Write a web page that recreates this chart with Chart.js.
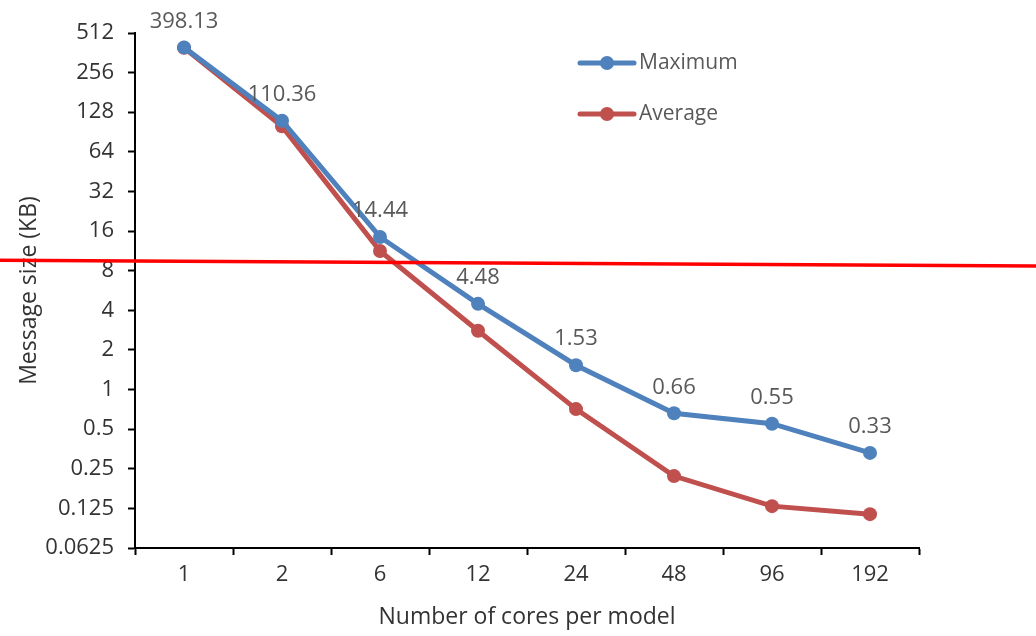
<!DOCTYPE html>
<html>
<head>
<meta charset="utf-8">
<script src="https://cdn.jsdelivr.net/npm/chart.js@4"></script>
<style>
  html, body { margin: 0; padding: 0; background: #fff; }
  #wrap { width: 1036px; height: 636px; }
</style>
</head>
<body>
<div id="wrap"><canvas id="msgChart" width="1036" height="636"></canvas></div>
<script>
// cores per model
var cores = ['1', '2', '6', '12', '24', '48', '96', '192'];
// message size in KB
var maxSize = [398.13, 110.36, 14.44, 4.48, 1.53, 0.66, 0.55, 0.33];
var avgSize = [395, 100, 11.3, 2.8, 0.71, 0.22, 0.13, 0.113];
// log2 ticks on the y axis
var yTicks = [0.0625, 0.125, 0.25, 0.5, 1, 2, 4, 8, 16, 32, 64, 128, 256, 512];
var yTickLabels = ['0.0625', '0.125', '0.25', '0.5', '1', '2', '4', '8', '16', '32', '64', '128', '256', '512'];
// threshold line, value at left and right edge of the canvas
var cutoffLine = [9.6, 8.7];

var FONT = '"Open Sans", sans-serif';
var BLUE = '#4f81bd';
var RED = '#c0504d';

// value labels above the Maximum series
var valueLabels = {
    id: 'valueLabels',
    afterDatasetsDraw: function (chart) {
        var ctx = chart.ctx;
        var meta = chart.getDatasetMeta(0);
        ctx.save();
        ctx.font = '22px ' + FONT;
        ctx.fillStyle = '#595959';
        ctx.textAlign = 'center';
        ctx.textBaseline = 'bottom';
        meta.data.forEach(function (pt, i) {
            ctx.fillText(maxSize[i].toFixed(2), pt.x, pt.y - 15);
        });
        ctx.restore();
    }
};

// legend in the upper right of the plot
var lineLegend = {
    id: 'lineLegend',
    afterDraw: function (chart) {
        var ctx = chart.ctx;
        var x0 = chart.chartArea.left + 445;
        var y0 = chart.chartArea.top + 30;
        chart.data.datasets.forEach(function (ds, i) {
            var y = y0 + i * 51;
            ctx.save();
            ctx.strokeStyle = ds.borderColor;
            ctx.lineWidth = 5;
            ctx.lineCap = 'round';
            ctx.beginPath();
            ctx.moveTo(x0, y);
            ctx.lineTo(x0 + 54, y);
            ctx.stroke();
            ctx.fillStyle = ds.borderColor;
            ctx.beginPath();
            ctx.arc(x0 + 27, y, 7, 0, Math.PI * 2);
            ctx.fill();
            ctx.font = '21px ' + FONT;
            ctx.fillStyle = '#595959';
            ctx.textBaseline = 'middle';
            ctx.fillText(ds.label, x0 + 59, y);
            ctx.restore();
        });
    }
};

// red threshold line across the whole figure
var cutoff = {
    id: 'cutoff',
    afterDraw: function (chart) {
        var y = chart.scales.y;
        var ctx = chart.ctx;
        ctx.save();
        ctx.strokeStyle = '#ff0000';
        ctx.lineWidth = 3.5;
        ctx.beginPath();
        ctx.moveTo(0, y.getPixelForValue(cutoffLine[0]));
        ctx.lineTo(chart.width, y.getPixelForValue(cutoffLine[1]));
        ctx.stroke();
        ctx.restore();
    }
};

var ctx = document.getElementById('msgChart').getContext('2d');
var msgChart = new Chart(ctx, {
    type: 'line',
    data: {
        labels: cores,
        datasets: [{
            label: 'Maximum',
            data: maxSize,
            borderColor: BLUE,
            backgroundColor: BLUE,
            borderWidth: 5,
            pointRadius: 7,
            pointHoverRadius: 7,
            pointBorderWidth: 0
        }, {
            label: 'Average',
            data: avgSize,
            borderColor: RED,
            backgroundColor: RED,
            borderWidth: 5,
            pointRadius: 7,
            pointHoverRadius: 7,
            pointBorderWidth: 0
        }]
    },
    options: {
        responsive: false,
        animation: false,
        layout: { padding: { left: 0, top: 33, right: 117, bottom: 0 } },
        plugins: {
            legend: { display: false },
            tooltip: { enabled: false }
        },
        scales: {
            x: {
                offset: true,
                grid: {
                    offset: true,
                    drawOnChartArea: false,
                    drawTicks: true,
                    tickLength: 7,
                    tickWidth: 2,
                    color: '#000'
                },
                border: { color: '#000', width: 2 },
                ticks: { color: '#333', font: { family: FONT, size: 22 }, padding: 7 },
                title: {
                    display: true,
                    text: 'Number of cores per model',
                    color: '#333',
                    font: { family: FONT, size: 23 },
                    padding: { bottom: 5 }
                },
                afterFit: function (scale) { scale.height = 88; }
            },
            y: {
                type: 'logarithmic',
                min: 0.0625,
                max: 512,
                afterBuildTicks: function (scale) {
                    scale.ticks = yTicks.map(function (v) { return { value: v }; });
                },
                grid: {
                    drawOnChartArea: false,
                    drawTicks: true,
                    tickLength: 7,
                    tickWidth: 2,
                    color: '#000'
                },
                border: { color: '#000', width: 2 },
                ticks: {
                    color: '#333',
                    font: { family: FONT, size: 22 },
                    padding: 14,
                    autoSkip: false,
                    callback: function (value) {
                        var i = yTicks.indexOf(value);
                        return i >= 0 ? yTickLabels[i] : '';
                    }
                },
                title: {
                    display: true,
                    text: 'Message size (KB)',
                    color: '#333',
                    font: { family: FONT, size: 23 },
                    padding: { top: 16 }
                },
                afterFit: function (scale) { scale.width = 135; }
            }
        }
    },
    plugins: [valueLabels, lineLegend, cutoff]
});
</script>
</body>
</html>
